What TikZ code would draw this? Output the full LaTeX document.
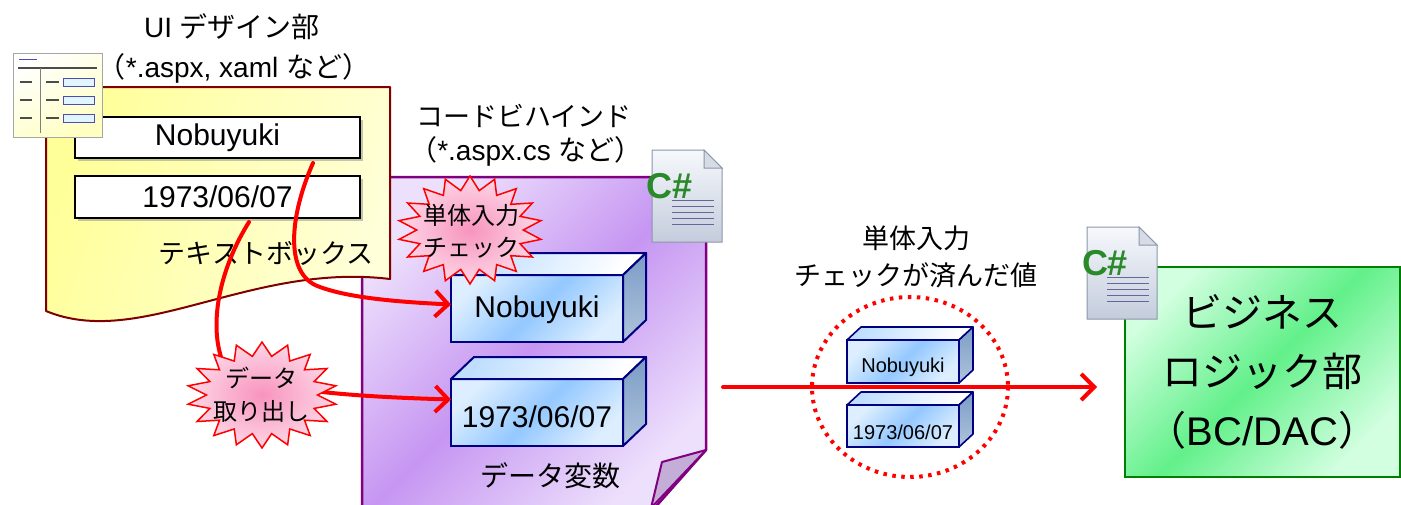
\documentclass[tikz,border=0pt]{standalone}
\usepackage{fontspec}
\setmainfont{Liberation Sans}
\newfontfamily\jp{Noto Sans CJK JP}
\usetikzlibrary{arrows.meta,calc,shadows}

\definecolor{ylw}{HTML}{FFFF99}
\definecolor{ylwlight}{HTML}{FFFFDA}
\definecolor{ylwedge}{HTML}{800000}
\definecolor{pplight}{HTML}{EDE0FC}
\definecolor{ppdark}{HTML}{C696F2}
\definecolor{ppedge}{HTML}{800080}
\definecolor{ppfold}{HTML}{C4AED8}
\definecolor{grlight}{HTML}{D2FFE0}
\definecolor{grdark}{HTML}{62F08A}
\definecolor{gredge}{HTML}{008000}
\definecolor{bxlight}{HTML}{DCEEFF}
\definecolor{bxmid}{HTML}{94C8FF}
\definecolor{bxside}{HTML}{7C9CC6}
\definecolor{bxsidelight}{HTML}{AFC4DC}
\definecolor{bxedge}{HTML}{000080}
\definecolor{burstin}{HTML}{F894BE}
\definecolor{burstout}{HTML}{FDD6E6}
\definecolor{csgreen}{HTML}{2A8A2A}
\definecolor{pagetop}{HTML}{F6F8FC}
\definecolor{pagebot}{HTML}{C4CCDC}
\definecolor{pageedge}{HTML}{8A96AA}

\tikzset{
  flow/.style={red, line width=4pt, line cap=round,
    -{Straight Barb[length=13pt,width=26pt,line width=4pt]}},
  txtbox/.style={draw=black, line width=2pt, fill=white, minimum width=285pt,
    inner sep=0pt, outer sep=0pt,
    drop shadow={shadow xshift=3pt, shadow yshift=-3pt, opacity=.45},
    font=\fontsize{30}{34}\selectfont},
  frontface/.style={draw=bxedge, line width=2pt, inner sep=0pt, outer sep=0pt,
    top color=bxlight, bottom color=bxlight, middle color=bxmid, shading angle=45},
  topface/.style={draw=bxedge, line width=2pt, line join=round,
    left color=bxmid!60!white, right color=white, shading angle=60},
  sideface/.style={draw=bxedge, line width=2pt, line join=round,
    top color=bxside, bottom color=bxsidelight},
  burst/.style={draw=red, line width=1.5pt, inner color=burstin, outer color=burstout},
  lbl/.style={inner sep=0pt, align=center},
  csdoc/.pic={
    \draw[pageedge, line width=1pt, top color=pagetop, bottom color=pagebot]
      (0,0) -- (52,0) -- (70,18) -- (70,92) -- (0,92) -- cycle;
    \draw[pageedge, line width=1pt, fill=pagebot!70!white] (52,0) -- (52,18) -- (70,18) -- cycle;
    \foreach \yy in {50,56,62,68,74}
      \draw[gray!80!blue, line width=1pt] (20,\yy) -- (62,\yy);
    \node[inner sep=0pt, text=csgreen, font=\bfseries\fontsize{36}{36}\selectfont] at (18,36) {C\#};
  },
  formicon/.pic={
    \draw[gray!70, line width=1pt, top color=white, bottom color=ylw!60!white, shading angle=30]
      (0,0) rectangle (89,84);
    \draw[blue!40!gray, line width=1pt] (6,6) -- (24,6);
    \draw[black!70, line width=1.6pt] (5,15) -- (84,15);
    \draw[gray, line width=1pt] (27,15) -- (27,80);
    \foreach \yy in {29,47,65} {
      \draw[black!70, line width=1.4pt] (7,\yy) -- (19,\yy);
      \draw[black!70, line width=1.4pt] (33,\yy) -- (46,\yy);
      \draw[blue!40!gray, line width=1pt, fill=cyan!12] (50,\yy-4) rectangle (81,\yy+4);
    }
  }
}

\begin{document}
\begin{tikzpicture}[x=1pt,y=-1pt]
\useasboundingbox (0,0) rectangle (1401,504);
\clip (0,0) rectangle (1401,504);

% code-behind page (purple) with folded corner
\draw[ppedge, line width=2.5pt, line join=round,
      top color=pplight, bottom color=pplight, middle color=ppdark, shading angle=45]
  (362,177) -- (706,177) -- (706,450) -- (651,512) -- (362,512) -- cycle;
\draw[ppedge, line width=2pt, line join=round, fill=ppfold]
  (706,450) -- (662,462) -- (651,508) -- cycle;

% UI page (yellow) with wavy bottom
\draw[ylwedge, line width=2pt, line join=round,
      left color=ylw, right color=ylwlight, shading angle=70]
  (46,87) -- (390,87) -- (390,279) .. controls (250,262) and (140,350) .. (46,311) -- cycle;

% text boxes on the UI page
\node[txtbox, minimum height=41pt] (tb1) at (217.5,137.5) {Nobuyuki};
\node[txtbox, minimum height=42pt] (tb2) at (217.5,197) {1973/06/07};
\node[lbl, font=\jp\fontsize{27}{30}\selectfont] (tbl) at (266,253) {テキストボックス};

% headings
\node[lbl, font=\fontsize{28}{30}\selectfont] (uihead) at (232,27) {UI {\jp デザイン部}};
\node[lbl, font=\fontsize{28}{30}\selectfont] (uisub) at (234,68) {{\jp （}*.aspx, xaml {\jp など）}};
\node[lbl, font=\jp\fontsize{27}{30}\selectfont] (cbhead) at (524,116) {コードビハインド};
\node[lbl, font=\fontsize{28}{30}\selectfont] (cbsub) at (526,151) {{\jp （}*.aspx.cs {\jp など）}};
\node[lbl, font=\jp\fontsize{28}{30}\selectfont] (varl) at (550,476) {データ変数};

% icons
\pic at (13,53) {formicon};
\pic at (652,150) {csdoc};

% variable boxes (3D)
\node[frontface, minimum width=172pt, minimum height=67pt] (v1) at (537,308.5) {};
\draw[topface] (v1.north west) -- ++(23,-22) -- ++(172,0) -- (v1.north east) -- cycle;
\draw[sideface] (v1.north east) -- ++(23,-22) -- ++(0,67) -- (v1.south east) -- cycle;
\node[lbl, font=\fontsize{30}{34}\selectfont] (v1t) at ([yshift=-1pt]v1.center) {Nobuyuki};

\node[frontface, minimum width=172pt, minimum height=67pt] (v2) at (537,412.5) {};
\draw[topface] (v2.north west) -- ++(23,-22) -- ++(172,0) -- (v2.north east) -- cycle;
\draw[sideface] (v2.north east) -- ++(23,-22) -- ++(0,67) -- (v2.south east) -- cycle;
\node[lbl, font=\fontsize{30}{34}\selectfont] (v2t) at ([yshift=-4pt]v2.center) {1973/06/07};

% data flow from the text boxes into the variables
\coordinate (s1) at (313,163);
\coordinate (s2) at (249,222);
\draw[flow] (s1) .. controls (290,215) and (285,270) .. (315,285)
  .. controls (345,298) and (400,302) .. ([yshift=4pt]v1.west);
\draw[flow] (s2) .. controls (222,265) and (208,320) .. (222,360)
  .. controls (240,392) and (370,397) .. ([yshift=13pt]v2.west);

% bursts
\draw[burst] plot[samples at={0,...,35}]
  ({470+(mod(\x,2)==0?1:0.74)*72*cos(\x*10-90)},
   {230+(mod(\x,2)==0?1:0.74)*54*sin(\x*10-90)}) -- cycle;
\node[lbl, font=\jp\fontsize{24}{32}\selectfont] (chk) at (471,231) {単体入力\\チェック};

\draw[burst] plot[samples at={0,...,35}]
  ({262+(mod(\x,2)==0?1:0.74)*75*cos(\x*10-90)},
   {395+(mod(\x,2)==0?1:0.74)*53*sin(\x*10-90)}) -- cycle;
\node[lbl, font=\jp\fontsize{24}{33}\selectfont] (ext) at (261,395) {データ\\取り出し};

% checked values on their way to the business logic
\node[lbl, font=\jp\fontsize{27}{37}\selectfont] (okl) at (916,257) {単体入力\\チェックが済んだ値};

\node[frontface, line width=1.6pt, minimum width=112pt, minimum height=43pt] (w1) at (903,361.5) {};
\draw[topface, line width=1.6pt] (w1.north west) -- ++(14,-13) -- ++(112,0) -- (w1.north east) -- cycle;
\draw[sideface, line width=1.6pt] (w1.north east) -- ++(14,-13) -- ++(0,43) -- (w1.south east) -- cycle;
\node[lbl, font=\fontsize{20}{22}\selectfont] (w1t) at ([yshift=-6pt]w1.center) {Nobuyuki};

\node[frontface, line width=1.6pt, minimum width=112pt, minimum height=42pt] (w2) at (903,426) {};
\draw[topface, line width=1.6pt] (w2.north west) -- ++(14,-13) -- ++(112,0) -- (w2.north east) -- cycle;
\draw[sideface, line width=1.6pt] (w2.north east) -- ++(14,-13) -- ++(0,42) -- (w2.south east) -- cycle;
\node[lbl, font=\fontsize{20}{22}\selectfont] (w2t) at ([yshift=-6pt]w2.center) {1973/06/07};

\draw[red, line width=4pt, dash pattern=on 3.5pt off 5.5pt] (910,387) ellipse [x radius=98, y radius=90];

% business logic block
\node[draw=gredge, line width=2.5pt, inner sep=0pt, outer sep=0pt,
      minimum width=275pt, minimum height=210pt, align=center,
      top color=grlight, bottom color=grlight, middle color=grdark, shading angle=45,
      font=\fontsize{40}{59}\selectfont] (g) at (1262.5,372)
  {{\jp ビジネス}\\{\jp ロジック部}\\{\jp （}BC/DAC{\jp ）}};
\pic at (1087,227) {csdoc};

\coordinate (a0) at (723,387);
\draw[flow] (a0) -- ([xshift=-28pt]a0 -| g.west);
\end{tikzpicture}
\end{document}
